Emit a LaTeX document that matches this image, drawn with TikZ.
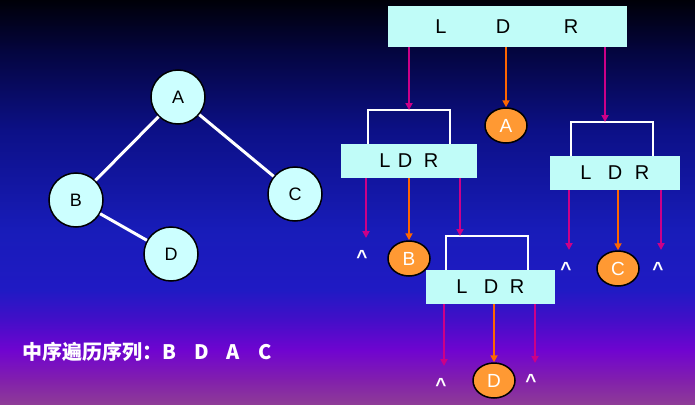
\documentclass[tikz,border=0pt]{standalone}
\usepackage{fontspec}
\setmainfont{Liberation Sans}
\newfontfamily\cjk{Noto Sans CJK SC}
\usepackage{xcolor}
\usetikzlibrary{
  arrows.meta,
  shapes.geometric,
  positioning
}
\definecolor{boxcyan}{RGB}{192,252,248}
\definecolor{nodecyan}{RGB}{204,255,255}
\definecolor{visit}{RGB}{255,153,51}
\definecolor{darrow}{RGB}{255,102,0}
\definecolor{larrow}{RGB}{204,0,136}
\definecolor{bg0}{RGB}{0,0,8}
\definecolor{bg1}{RGB}{4,5,62}
\definecolor{bg2}{RGB}{12,16,135}
\definecolor{bg3}{RGB}{24,28,185}
\definecolor{bg4}{RGB}{32,26,196}
\definecolor{bg5}{RGB}{68,14,200}
\definecolor{bg6}{RGB}{112,4,208}
\definecolor{bg7}{RGB}{130,32,172}
\definecolor{bg8}{RGB}{142,60,150}
\tikzset{
  tnode/.style = {
    circle, draw=black, line width=1.5pt, fill=nodecyan,
    minimum size=54pt, inner sep=0pt, font=\fontsize{18}{18}\selectfont
  },
  tedge/.style = {draw=white, line width=3pt},
  box/.style = {fill=boxcyan, minimum height=34pt, inner sep=0pt},
  let/.style = {inner sep=0pt, font=\fontsize{20}{20}\selectfont},
  vis/.style = {
    ellipse, draw=black, line width=1.5pt, fill=visit, text=white,
    minimum width=42pt, minimum height=35pt, inner sep=0pt,
    font=\fontsize{19}{19}\selectfont
  },
  brk/.style = {draw=white, line width=2pt},
  larr/.style = {draw=larrow, line width=2pt, -{Triangle[length=7pt,width=7pt]}},
  darr/.style = {draw=darrow, line width=2pt, -{Triangle[length=7pt,width=7pt]}},
  hat/.style = {text=white, inner sep=0pt, font=\fontsize{19}{19}\selectfont\bfseries},
}
\begin{document}
\begin{tikzpicture}[x=1pt,y=-1pt]
  \useasboundingbox (0,0) rectangle (695,404);
  \foreach \ya/\yb/\ca/\cb in {0/50/bg0/bg1, 50/130/bg1/bg2, 130/230/bg2/bg3,
      230/290/bg3/bg4, 290/320/bg4/bg5, 320/350/bg5/bg6, 350/380/bg6/bg7, 380/404/bg7/bg8}
    \shade[top color=\ca, bottom color=\cb] (0,\ya) rectangle (695,\yb+1);

  % the tree
  \node[tnode] (A) at (178,97) {A};
  \node[tnode] (B) at (76,200) {B};
  \node[tnode] (C) at (295,194) {C};
  \node[tnode] (D) at (171,254) {D};
  \draw[tedge] (A) -- (B);
  \draw[tedge] (A) -- (C);
  \draw[tedge] (B) -- (D);

  \node[anchor=west, text=white, font=\cjk\bfseries\fontsize{20}{20}\selectfont] (seq) at (19,352)
    {中序遍历序列：\makebox[32pt][l]{B}\makebox[32pt][l]{D}\makebox[32pt][l]{A}C};

  % traversal
  \node[box, minimum width=239pt, minimum height=41pt] (top) at (507.5,26.5) {};
  \node[let] (top-l) at (441,27) {L};
  \node[let] (top-d) at (503,27) {D};
  \node[let] (top-r) at (571,27) {R};

  \node[box, minimum width=136pt] (lmid) at (409,161) {};
  \node[let] (lmid-l) at (385,161) {L};
  \node[let] (lmid-d) at (405,161) {D};
  \node[let] (lmid-r) at (431,161) {R};
  \draw[brk] (368,144) |- (450,110) -- (450,144);

  \node[box, minimum width=130pt] (rmid) at (615,173) {};
  \node[let] (rmid-l) at (586,173) {L};
  \node[let] (rmid-d) at (615,173) {D};
  \node[let] (rmid-r) at (642,173) {R};
  \draw[brk] (571,156) |- (653,122) -- (653,156);

  \node[box, minimum width=129pt] (bot) at (490.5,287) {};
  \node[let] (bot-l) at (462,287) {L};
  \node[let] (bot-d) at (491,287) {D};
  \node[let] (bot-r) at (517,287) {R};
  \draw[brk] (446,270) |- (528,236) -- (528,270);

  \node[vis] (vA) at (506,125.5) {A};
  \node[vis] (vB) at (409,258.5) {B};
  \node[vis] (vC) at (618,268.5) {C};
  \node[vis] (vD) at (494,380.5) {D};

  \node[hat] (h1) at (362,257) {\textasciicircum};
  \node[hat] (h2) at (566,269) {\textasciicircum};
  \node[hat] (h3) at (658,269) {\textasciicircum};
  \node[hat] (h4) at (441,385) {\textasciicircum};
  \node[hat] (h5) at (531,381) {\textasciicircum};

  \coordinate (lin) at (409,110);
  \coordinate (rin) at (605,122);
  \coordinate (bin) at (460,236);
  \coordinate (lnil) at (366,238);
  \coordinate (rnil1) at (569,250);
  \coordinate (rnil2) at (661,250);
  \coordinate (bnil1) at (444,366);
  \coordinate (bnil2) at (535,363);

  \draw[larr] (top.south -| lin) -- (lin);
  \draw[darr] (top.south -| vA) -- (vA);
  \draw[larr] (top.south -| rin) -- (rin);

  \draw[larr] (lmid.south -| lnil) -- (lnil);
  \draw[darr] (lmid.south -| vB) -- (vB);
  \draw[larr] (lmid.south -| bin) -- (bin);

  \draw[larr] (rmid.south -| rnil1) -- (rnil1);
  \draw[darr] (rmid.south -| vC) -- (vC);
  \draw[larr] (rmid.south -| rnil2) -- (rnil2);

  \draw[larr] (bot.south -| bnil1) -- (bnil1);
  \draw[darr] (bot.south -| vD) -- (vD);
  \draw[larr] (bot.south -| bnil2) -- (bnil2);
\end{tikzpicture}
\end{document}
